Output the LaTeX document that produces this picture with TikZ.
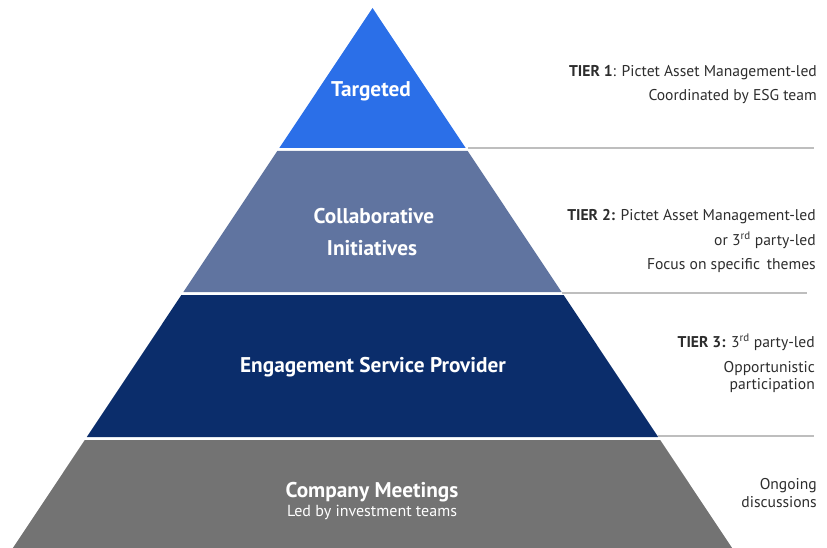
\documentclass[tikz,border=0pt]{standalone}
\usepackage{fontspec}
\setmainfont{PT Sans}
\definecolor{tierone}{RGB}{43,111,232}
\definecolor{tiertwo}{RGB}{96,116,160}
\definecolor{tierthree}{RGB}{11,45,107}
\definecolor{tierfour}{RGB}{115,115,115}
\definecolor{sepline}{RGB}{190,190,190}
\definecolor{sidetext}{RGB}{45,45,45}
\tikzset{
  band/.style={draw=none},
  lbl/.style={text=white, font=\bfseries\fontsize{21.3}{24}\selectfont, inner sep=0pt, anchor=base},
  sublbl/.style={text=white, font=\fontsize{16}{19}\selectfont, inner sep=0pt, anchor=base},
  side/.style={text=sidetext, font=\fontsize{15.6}{18}\selectfont, inner sep=0pt, anchor=base east},
  rule/.style={draw=sepline, line width=1.3pt},
}
\begin{document}
\begin{tikzpicture}[x=1pt,y=-1pt]
\useasboundingbox (0,0) rectangle (827,548);
% pyramid bands
\fill[tierone]   (372.5,8) -- (465.7,148) -- (279.3,148) -- cycle;
\fill[tiertwo]   (277.3,151) -- (467.7,151) -- (561.6,292) -- (183.4,292) -- cycle;
\fill[tierthree] (181.4,295) -- (563.6,295) -- (658.2,437) -- (86.8,437) -- cycle;
\fill[tierfour]  (84.8,440) -- (660.2,440) -- (732.1,548) -- (12.9,548) -- cycle;
% separator rules
\coordinate (r1a) at (468,148); \coordinate (r1b) at (814,148);
\coordinate (r2a) at (562,293); \coordinate (r2b) at (807,293);
\coordinate (r3a) at (658,436); \coordinate (r3b) at (814,436);
\draw[rule] (r1a) -- (r1b);
\draw[rule] (r2a) -- (r2b);
\draw[rule] (r3a) -- (r3b);
% pyramid labels
\node[lbl] (targeted) at (371,97) {Targeted};
\node[lbl] (collab) at (374,223) {Collaborative};
\node[lbl] (initiatives) at (372,255) {Initiatives};
\node[lbl] (esp) at (373,372) {Engagement Service Provider};
\node[lbl] (company) at (372,497) {Company Meetings};
\node[sublbl] (ledby) at (372,516) {Led by investment teams};
% side texts
\node[side] (t1a) at (817,77) {\textbf{TIER 1}: Pictet Asset Management-led};
\node[side] (t1b) at (817,101) {Coordinated by ESG team};
\node[side] (t2a) at (816,220) {\textbf{TIER 2:} Pictet Asset Management-led};
\node[side] (t2b) at (816,245) {or 3\textsuperscript{rd} party-led};
\node[side] (t2c) at (816,269) {Focus on specific\, themes};
\node[side] (t3a) at (815,347) {\textbf{TIER 3:} 3\textsuperscript{rd} party-led};
\node[side] (t3b) at (815,372) {Opportunistic};
\node[side] (t3c) at (815,389) {participation};
\node[side] (t4a) at (817,489) {Ongoing};
\node[side] (t4b) at (817,507) {discussions};
\end{tikzpicture}
\end{document}
